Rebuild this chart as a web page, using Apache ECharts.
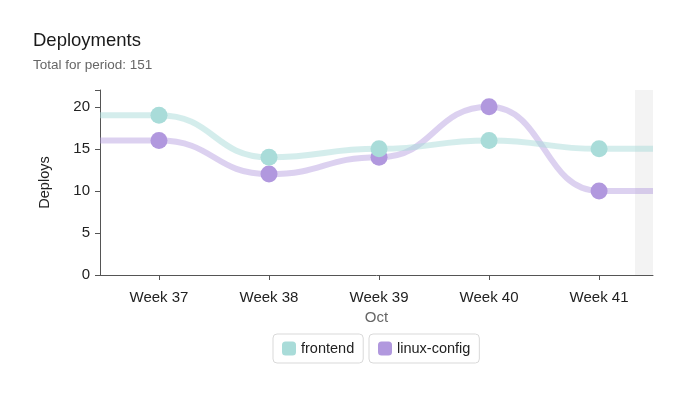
<!DOCTYPE html>
<html>
<head>
<meta charset="utf-8">
<script src="https://cdn.jsdelivr.net/npm/echarts@6/dist/echarts.min.js"></script>
<style>
  html, body { margin: 0; padding: 0; background: #fff; }
  #chart { width: 700px; height: 399px; }
</style>
</head>
<body>
<div id="chart"></div>
<script>
// week numbers and deploy counts per week
const weeks = [37, 38, 39, 40, 41];
const frontend = [19, 14, 15, 16, 15];
const linuxConfig = [16, 12, 14, 20, 10];
const yTicks = [0, 5, 10, 15, 20];

// period covered by the x axis (week units), last part is the unfinished week
const periodStart = 36.464;
const periodEnd = 41.49;
const openStart = 41.327;

const FONT = 'Helvetica Neue, Helvetica, Arial, sans-serif';

// line runs flat from the period edges to the first / last point
const buildLine = (vals) => {
    const pts = weeks.map((w, i) => [w, vals[i]]);
    return [
        { value: [periodStart, vals[0]], symbol: 'none' },
        ...pts,
        { value: [periodEnd, vals[vals.length - 1]], symbol: 'none' }
    ];
};

const legendBox = (name, left) => ({
    data: [name],
    left: left,
    top: 334,
    orient: 'horizontal',
    icon: 'roundRect',
    itemWidth: 14,
    itemHeight: 14,
    padding: [7, 9, 7, 9],
    borderColor: '#d9d9d9',
    borderWidth: 1,
    borderRadius: 4,
    selectedMode: false,
    textStyle: { fontSize: 14.5, color: '#222', fontFamily: FONT }
});

const chart = echarts.init(document.getElementById('chart'));
const option = {
    animation: false,
    title: {
        text: 'Deployments',
        subtext: 'Total for period: 151',
        left: 28,
        top: 26,
        itemGap: 8,
        textStyle: { fontSize: 18.5, fontWeight: 'normal', color: '#1a1a1a', fontFamily: FONT },
        subtextStyle: { fontSize: 13.5, color: '#666', fontFamily: FONT }
    },
    legend: [legendBox('frontend', 273), legendBox('linux-config', 369)],
    grid: { left: 100, right: 47, top: 90, bottom: 124 },
    xAxis: {
        type: 'value',
        min: periodStart,
        max: periodEnd,
        name: 'Oct',
        nameLocation: 'middle',
        nameGap: 35,
        nameTextStyle: { fontSize: 15, color: '#666', fontFamily: FONT },
        splitLine: { show: false },
        axisLine: { show: true, lineStyle: { color: '#555', width: 1 } },
        axisTick: { show: true, length: 5, customValues: weeks, lineStyle: { color: '#555' } },
        axisLabel: {
            customValues: weeks,
            formatter: (v) => 'Week ' + v,
            margin: 15,
            fontSize: 15,
            color: '#222',
            fontFamily: FONT
        }
    },
    yAxis: {
        type: 'value',
        min: 0,
        max: 22,
        name: 'Deploys',
        nameLocation: 'middle',
        nameGap: 48,
        nameTextStyle: { fontSize: 14.5, color: '#222', fontFamily: FONT },
        splitLine: { show: false },
        axisLine: { show: true, lineStyle: { color: '#555', width: 1 } },
        axisTick: { show: true, length: 5, customValues: yTicks.concat([22]), lineStyle: { color: '#555' } },
        axisLabel: { customValues: yTicks, margin: 10, fontSize: 15, color: '#222', fontFamily: FONT }
    },
    series: [
        {
            name: 'frontend',
            type: 'line',
            smooth: 0.5,
            smoothMonotone: 'x',
            symbol: 'circle',
            symbolSize: 17,
            z: 3,
            itemStyle: { color: '#a9dcd9' },
            lineStyle: { color: 'rgba(169,220,217,0.5)', width: 6 },
            data: buildLine(frontend),
            markArea: {
                silent: true,
                itemStyle: { color: '#f3f3f3' },
                data: [[{ xAxis: openStart }, { xAxis: periodEnd }]]
            }
        },
        {
            name: 'linux-config',
            type: 'line',
            smooth: 0.5,
            smoothMonotone: 'x',
            symbol: 'circle',
            symbolSize: 17,
            z: 2,
            itemStyle: { color: '#b198de' },
            lineStyle: { color: 'rgba(177,152,222,0.45)', width: 6 },
            data: buildLine(linuxConfig)
        }
    ]
};
chart.setOption(option);
</script>
</body>
</html>
